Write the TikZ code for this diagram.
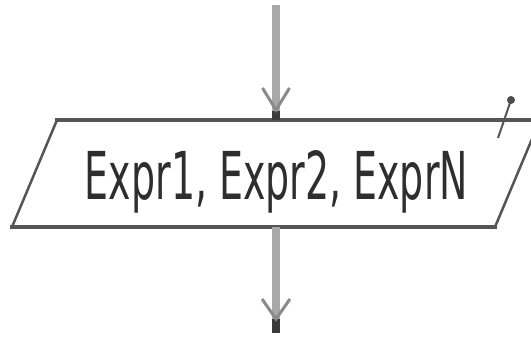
\documentclass[tikz,border=0pt]{standalone}
\usepackage{graphicx}
\usepackage{fontspec}
\setmainfont{DejaVu Sans}
\usetikzlibrary{calc}
\definecolor{shaftc}{HTML}{A8A8A8}
\definecolor{barbc}{HTML}{8A8A8A}
\definecolor{tipc}{HTML}{3A3A3A}
\definecolor{edgec}{HTML}{555555}
\definecolor{textc}{HTML}{2E2E2E}
\tikzset{
  shaftline/.style={shaftc, line width=8pt},
  tipline/.style={tipc, line width=8pt},
  barbline/.style={barbc, line width=3pt},
  hedge/.style={edgec, line width=4.5pt},
  sedge/.style={edgec, line width=2.5pt},
}
\begin{document}
\begin{tikzpicture}[x=1pt,y=1pt]
\useasboundingbox (0,0) rectangle (531,338);
\coordinate (bl) at (12,111);
\coordinate (tl) at (57,218);
\coordinate (tr) at (540,218);
\coordinate (br) at (495,111);
\coordinate (iotop) at (276,218);
\coordinate (iobot) at (276,111);
\coordinate (in) at (276,333);
\coordinate (out) at (276,5);
\begin{scope}
\clip (0,0) rectangle (531,338);
\fill[white] (bl) -- (tl) -- (tr) -- (br) -- cycle;
\draw[sedge] (bl) -- (tl);
\draw[sedge] (br) -- (tr);
\draw[hedge] ($(bl)+(-2,0)$) -- ($(br)+(2,0)$);
\draw[hedge] ($(tl)+(-2,0)$) -- ($(tr)+(4,0)$);
\end{scope}
\node[anchor=base, inner sep=0, text=textc] (io) at (276.5,138)
  {\resizebox{383pt}{49pt}{Expr1, Expr2, ExprN}};
% small marker at top right
\coordinate (mk1) at (498,200);
\coordinate (mk2) at (511,238);
\draw[edgec, line width=2pt] (mk1) -- (mk2);
\fill[edgec!90!black] (511,238) circle (4pt);
% incoming arrow
\draw[shaftline] (in) -- (iotop);
\draw[tipline] ($(iotop)+(0,9)$) -- (iotop);
\draw[barbline] ($(iotop)+(-13.5,32)$) -- ($(iotop)+(0,10)$) -- ($(iotop)+(13.5,32)$);
% outgoing arrow
\draw[shaftline] (iobot) -- (out);
\draw[tipline] ($(out)+(0,14)$) -- (out);
\draw[barbline] ($(out)+(-14,34)$) -- ($(out)+(0,14)$) -- ($(out)+(14,34)$);
\end{tikzpicture}
\end{document}
